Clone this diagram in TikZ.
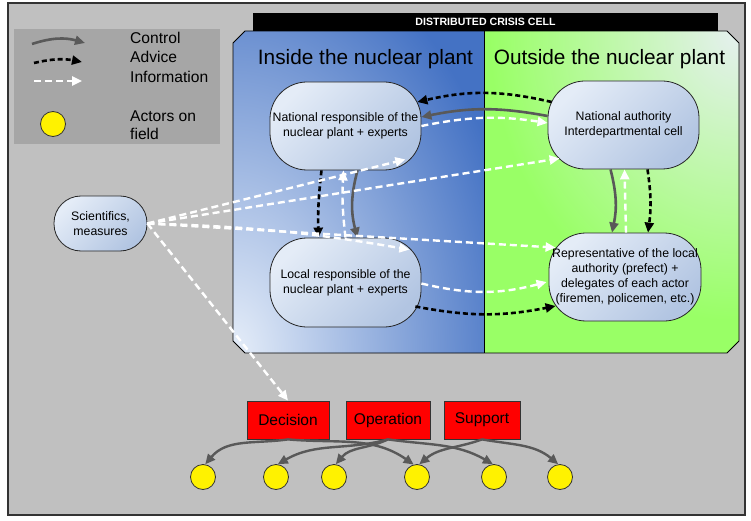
\documentclass[tikz,border=0pt]{standalone}
\usepackage{fontspec}
\setmainfont{Liberation Sans}
\usetikzlibrary{arrows.meta}
\definecolor{bgGray}{HTML}{C0C0C0}
\definecolor{legGray}{HTML}{A6A6A6}
\definecolor{frameC}{HTML}{333333}
\definecolor{blueD}{HTML}{4472C4}
\definecolor{blueL}{HTML}{E6EEF9}
\definecolor{greenC}{HTML}{99FF66}
\definecolor{greenL}{HTML}{E6F0F0}
\definecolor{nodeL}{HTML}{E4ECF7}
\definecolor{nodeD}{HTML}{B2C5E2}
\definecolor{ctrlGray}{HTML}{595959}
\tikzset{
  actor/.style={draw=black!85, line width=0.8pt, rounded corners=37pt,
    top color=nodeL, bottom color=nodeD, shading angle=45,
    minimum width=151pt, minimum height=88pt, inner sep=0pt, align=center,
    font=\fontsize{12.3}{15}\selectfont},
  redbox/.style={draw=black!80, fill=red, line width=0.8pt, minimum height=38pt,
    inner sep=0pt, font=\fontsize{15.5}{18}\selectfont},
  yell/.style={circle, draw=black!80, fill=yellow, minimum size=25pt, inner sep=0pt, line width=0.8pt},
  ctrl/.style={draw=ctrlGray, line width=2.6pt, -{Triangle[length=10pt,width=9pt]}},
  advice/.style={draw=black, line width=2.6pt, dash pattern=on 5pt off 3pt, -{Triangle[length=10pt,width=9pt]}},
  info/.style={draw=white, line width=2.4pt, dash pattern=on 7pt off 4pt, -{Triangle[length=10pt,width=9pt]}},
  legtext/.style={anchor=west, inner sep=0pt, align=left, font=\fontsize{15.6}{18}\selectfont},
  heading/.style={inner sep=0pt, font=\fontsize{20.8}{24}\selectfont}
}
\begin{document}
\begin{tikzpicture}[x=1pt,y=1pt]
\useasboundingbox (0,0) rectangle (751,-521);
% outer frame
\fill[white] (0,0) rectangle (751,-521);
\draw[frameC, line width=1.3pt, fill=bgGray] (8,-3) rectangle (745,-515);
% legend box
\fill[legGray] (14,-29) rectangle (220,-144);
% left region (inside)
\begin{scope}
\clip (233,-43) -- (245,-31) -- (484,-31) -- (484,-353) -- (245,-353) -- (233,-341) -- cycle;
\fill[blueD] (233,-31) rectangle (484,-353);
\shade[inner color=blueL, outer color=blueD] (233,-353) ellipse (290 and 430);
\end{scope}
% right region (outside)
\begin{scope}
\clip (484,-31) -- (727,-31) -- (739,-43) -- (739,-341) -- (727,-353) -- (484,-353) -- cycle;
\fill[greenC] (484,-31) rectangle (739,-353);
\shade[inner color=greenL, outer color=greenC] (739,-31) ellipse (250 and 290);
\end{scope}
\draw[black, line width=0.9pt] (233,-43) -- (245,-31) -- (727,-31) -- (739,-43) -- (739,-341) -- (727,-353) -- (245,-353) -- (233,-341) -- cycle;
\draw[black, line width=0.9pt] (484,-31) -- (484,-353);
% banner
\node[fill=black, text=white, minimum width=465pt, minimum height=18pt, inner sep=0pt,
  font=\bfseries\fontsize{10.6}{12}\selectfont] (banner) at (485.5,-22) {DISTRIBUTED CRISIS CELL};
% headings
\node[heading] (hin) at (365.5,-59.5) {Inside the nuclear plant};
\node[heading] (hout) at (609.5,-59.5) {Outside the nuclear plant};
% legend
\coordinate (la1) at (32,-44); \coordinate (la2) at (85,-43);
\coordinate (lb1) at (34,-63); \coordinate (lb2) at (82,-62);
\coordinate (lc1) at (34,-81); \coordinate (lc2) at (82,-81);
\draw[ctrl] (la1) to[bend left=17] (la2);
\draw[advice] (lb1) to[bend left=12] (lb2);
\draw[info] (lc1) -- (lc2);
\node[yell] (lyel) at (53,-124) {};
\node[legtext] (t1) at (130,-38) {Control};
\node[legtext] (t2) at (130,-57) {Advice};
\node[legtext] (t3) at (130,-76.5) {Information};
\node[legtext, anchor=north west] (t4) at (130,-110.5) {Actors on\\field};
% actors
\node[actor] (n1) at (345.5,-126) {National responsible of the\\nuclear plant + experts};
\node[actor] (n2) at (623.5,-125) {National authority\\Interdepartmental cell};
\node[actor, minimum height=89pt] (n3) at (345.5,-282.5) {Local responsible of the\\nuclear plant + experts};
\node[actor, minimum width=152pt] (n4) at (625,-277) {Representative of the local\\authority (prefect) +\\delegates of each actor\\(firemen, policemen, etc.)};
\node[actor, minimum width=93pt, minimum height=55pt, rounded corners=27pt] (sci) at (100.5,-223.5) {Scientifics,\\measures};
% red boxes
\node[redbox, minimum width=82pt] (dec) at (288,-420) {Decision};
\node[redbox, minimum width=84pt] (ope) at (388,-420) {Operation};
\node[redbox, minimum width=76pt] (sup) at (482,-420) {Support};
% field actors
\node[yell] (c1) at (203,-477) {};
\node[yell] (c2) at (276,-477) {};
\node[yell] (c3) at (334,-477) {};
\node[yell] (c4) at (417,-477) {};
\node[yell] (c5) at (494,-477) {};
\node[yell] (c6) at (560,-477) {};
% connectors in the cell
\draw[ctrl] ([shift={(0,9)}]n2.west) to[bend right=11] ([shift={(0,9)}]n1.east);
\draw[advice] ([shift={(4,23)}]n2.west) to[bend right=13] ([shift={(-4,24)}]n1.east);
\draw[info] (n1.east) to[bend left=10] ([shift={(0,2)}]n2.west);
\draw[advice] ([shift={(-24,0)}]n1.south) to[bend right=4] ([shift={(-27,0)}]n3.north);
\draw[ctrl] ([shift={(12,0)}]n1.south) to[bend right=15] ([shift={(12,0)}]n3.north);
\draw[info] (n3.north) to[bend left=5] ([shift={(-2,0)}]n1.south);
\draw[ctrl] ([shift={(-13,0)}]n2.south) to[bend left=13] ([shift={(-13,0)}]n4.north);
\draw[info] ([shift={(1,0)}]n4.north) -- ([shift={(1,0)}]n2.south);
\draw[advice] ([shift={(24,0)}]n2.south) to[bend left=8] ([shift={(23,0)}]n4.north);
\draw[info] ([shift={(0,-1)}]n3.east) to[bend right=14] ([shift={(-2,-5)}]n4.west);
\draw[advice] ([shift={(-6,-24)}]n3.east) to[bend right=11] ([shift={(7,-29)}]n4.west);
% scientifics
\draw[info] (sci.east) -- ([shift={(-16,11)}]n1.south east);
\draw[info] (sci.east) -- ([shift={(12,11)}]n2.south west);
\draw[info] (sci.east) to[bend left=4] ([shift={(-12,-12)}]n3.north east);
\draw[info] (sci.east) -- ([shift={(7,-15)}]n4.north west);
\draw[info] (sci.east) -- (dec.north);
% bottom arrows
\draw[ctrl, line width=2.4pt] (dec.south) to[out=188,in=50] (c1.80);
\draw[ctrl, line width=2.4pt] (dec.south) to[out=-5,in=145] (c4.105);
\draw[ctrl, line width=2.4pt] (ope.south) to[out=195,in=30] (c2.82);
\draw[ctrl, line width=2.4pt] (ope.south) to[out=205,in=50] (c3.82);
\draw[ctrl, line width=2.4pt] (ope.south) to[out=-8,in=150] (c5.95);
\draw[ctrl, line width=2.4pt] (sup.south) to[out=200,in=40] (c4.80);
\draw[ctrl, line width=2.4pt] (sup.south) to[out=-10,in=140] (c6.98);
\end{tikzpicture}
\end{document}
